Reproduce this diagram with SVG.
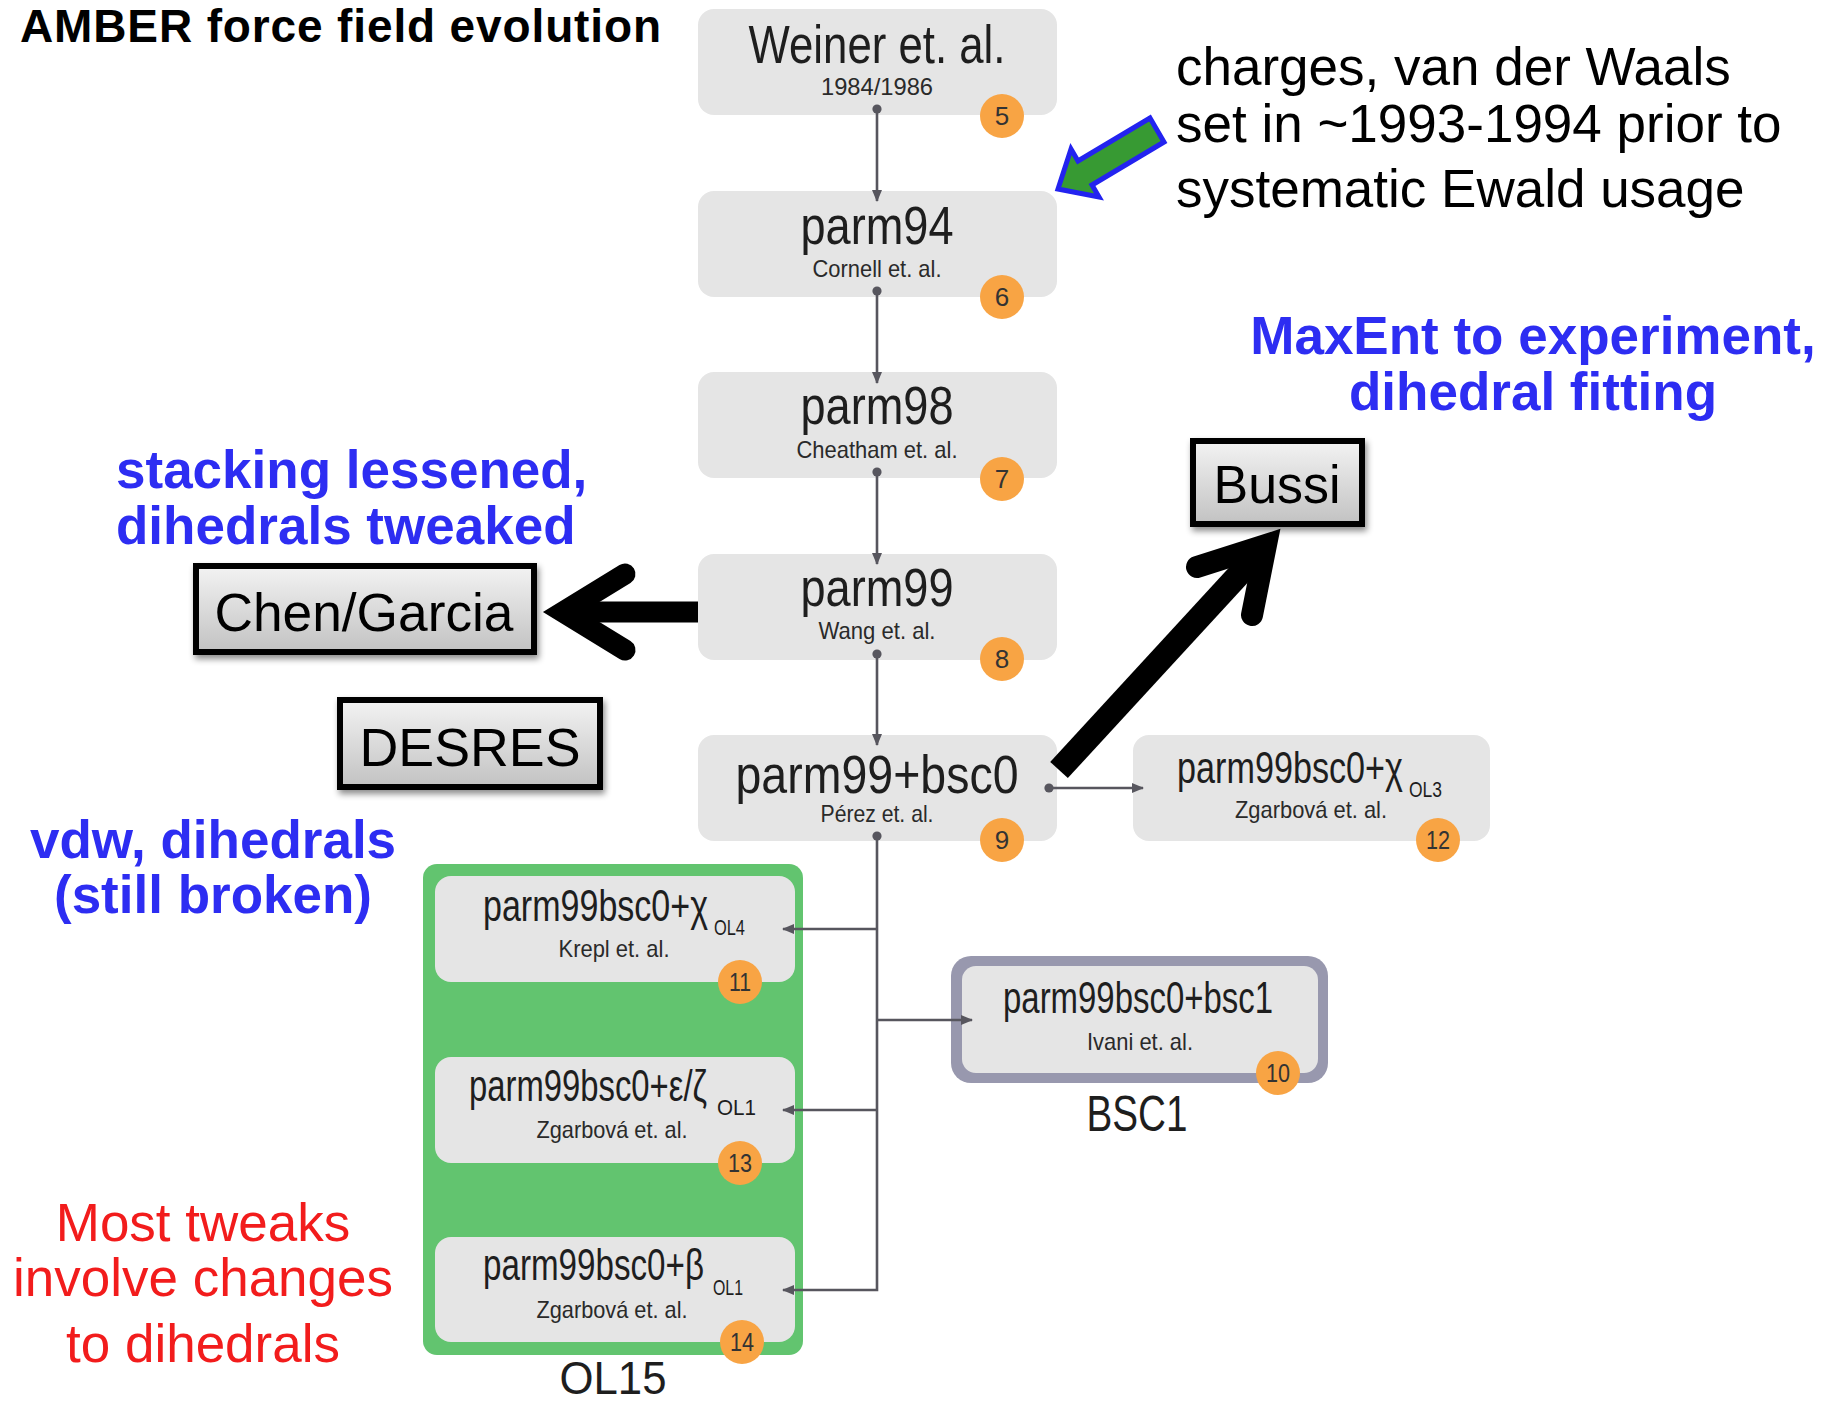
<svg xmlns="http://www.w3.org/2000/svg" width="1822" height="1405" viewBox="0 0 1822 1405">
<defs>
<style>
.box{fill:#e5e5e5}
.t{font-family:"Liberation Sans",Arial,sans-serif;fill:#1e1e1e;text-anchor:middle}
.ts{font-family:"Liberation Sans",Arial,sans-serif;fill:#1e1e1e;text-anchor:start}
.title{font-size:53px}
.sub{font-size:24px;fill:#2a2a2a}
.st{font-size:44px}
.sc{font-size:22px}
.badge circle{fill:#f8a444}
.badge text{font-family:"Liberation Sans",Arial,sans-serif;font-size:26px;fill:#333;text-anchor:middle}
.conn{stroke:#57565e;stroke-width:2.6;fill:none}
.ann{font-family:"Liberation Sans",Arial,sans-serif;font-size:53px}
.blue{fill:#2d2df2;font-weight:bold}
.red{fill:#f21c1c;text-anchor:middle}
.lbl rect{fill:url(#g);stroke:#000;stroke-width:6}
.lbl text{font-family:"Liberation Sans",Arial,sans-serif;font-size:54px;text-anchor:middle;fill:#000}
.big{stroke:#000;fill:none}
</style>
<linearGradient id="g" x1="0" y1="0" x2="0" y2="1"><stop offset="0" stop-color="#f3f3f3"/><stop offset="1" stop-color="#c2c2c2"/></linearGradient>
<filter id="sh" x="-10%" y="-10%" width="130%" height="140%"><feDropShadow dx="2" dy="4" stdDeviation="3" flood-color="#000" flood-opacity="0.45"/></filter>
<marker id="ah" viewBox="0 0 12 12" refX="11" refY="6" markerWidth="12" markerHeight="12" markerUnits="userSpaceOnUse" orient="auto"><path d="M0,1 L12,6 L0,11 z" fill="#57565e"/></marker>
<marker id="dot" viewBox="0 0 10 10" refX="5" refY="5" markerWidth="10" markerHeight="10" markerUnits="userSpaceOnUse"><circle cx="5" cy="5" r="4.6" fill="#57565e"/></marker>
</defs>
<rect width="1822" height="1405" fill="#fff"/>

<text class="ann" x="20" y="42" font-weight="bold" textLength="641" lengthAdjust="spacing" style="font-size:46px">AMBER force field evolution</text>

<g id="ol15">
<rect x="423" y="864" width="380" height="491" rx="14" fill="#62c46f"/>
<text class="t" x="613" y="1394" font-size="47" textLength="107" lengthAdjust="spacingAndGlyphs">OL15</text>
</g>
<g id="bsc1">
<rect x="951" y="956" width="377" height="127" rx="20" fill="#9898ae"/>
<text class="t" x="1137" y="1131" font-size="50" textLength="101" lengthAdjust="spacingAndGlyphs">BSC1</text>
</g>

<g id="n5">
<rect class="box" x="698" y="9" width="359" height="106" rx="16"/>
<text class="t title" x="877" y="63" textLength="257" lengthAdjust="spacingAndGlyphs">Weiner et. al.</text>
<text class="t sub" x="877" y="95" textLength="112" lengthAdjust="spacingAndGlyphs">1984/1986</text>
</g>
<g id="n6">
<rect class="box" x="698" y="191" width="359" height="106" rx="16"/>
<text class="t title" x="877" y="244" textLength="153" lengthAdjust="spacingAndGlyphs">parm94</text>
<text class="t sub" x="877" y="277" textLength="129" lengthAdjust="spacingAndGlyphs">Cornell et. al.</text>
</g>
<g id="n7">
<rect class="box" x="698" y="372" width="359" height="106" rx="16"/>
<text class="t title" x="877" y="424" textLength="153" lengthAdjust="spacingAndGlyphs">parm98</text>
<text class="t sub" x="877" y="458" textLength="161" lengthAdjust="spacingAndGlyphs">Cheatham et. al.</text>
</g>
<g id="n8">
<rect class="box" x="698" y="554" width="359" height="106" rx="16"/>
<text class="t title" x="877" y="606" textLength="153" lengthAdjust="spacingAndGlyphs">parm99</text>
<text class="t sub" x="877" y="639" textLength="117" lengthAdjust="spacingAndGlyphs">Wang et. al.</text>
</g>
<g id="n9">
<rect class="box" x="698" y="735" width="359" height="106" rx="16"/>
<text class="t title" x="877" y="793" textLength="283" lengthAdjust="spacingAndGlyphs">parm99+bsc0</text>
<text class="t sub" x="877" y="822" textLength="113" lengthAdjust="spacingAndGlyphs">Pérez et. al.</text>
</g>
<g id="n12">
<rect class="box" x="1133" y="735" width="357" height="106" rx="16"/>
<text class="ts st" x="1177" y="783"><tspan textLength="226" lengthAdjust="spacingAndGlyphs">parm99bsc0+χ</tspan><tspan class="sc" x="1409" y="797" textLength="33" lengthAdjust="spacingAndGlyphs">OL3</tspan></text>
<text class="t sub" x="1311" y="818" textLength="152" lengthAdjust="spacingAndGlyphs">Zgarbová et. al.</text>
</g>
<g id="n10">
<rect class="box" x="962" y="966" width="356" height="107" rx="14"/>
<text class="t st" x="1138" y="1013" textLength="270" lengthAdjust="spacingAndGlyphs">parm99bsc0+bsc1</text>
<text class="t sub" x="1140" y="1050" textLength="106" lengthAdjust="spacingAndGlyphs">Ivani et. al.</text>
</g>
<g id="n11">
<rect class="box" x="435" y="876" width="360" height="106" rx="16"/>
<text class="ts st" x="483" y="921"><tspan textLength="225" lengthAdjust="spacingAndGlyphs">parm99bsc0+χ</tspan><tspan class="sc" x="714" y="935" textLength="31" lengthAdjust="spacingAndGlyphs">OL4</tspan></text>
<text class="t sub" x="614" y="957" textLength="111" lengthAdjust="spacingAndGlyphs">Krepl et. al.</text>
</g>
<g id="n13">
<rect class="box" x="435" y="1057" width="360" height="106" rx="16"/>
<text class="ts st" x="469" y="1101"><tspan textLength="238" lengthAdjust="spacingAndGlyphs">parm99bsc0+ε/ζ</tspan><tspan class="sc" x="717" y="1115" textLength="39" lengthAdjust="spacingAndGlyphs">OL1</tspan></text>
<text class="t sub" x="612" y="1138" textLength="151" lengthAdjust="spacingAndGlyphs">Zgarbová et. al.</text>
</g>
<g id="n14">
<rect class="box" x="435" y="1237" width="360" height="105" rx="16"/>
<text class="ts st" x="483" y="1280"><tspan textLength="221" lengthAdjust="spacingAndGlyphs">parm99bsc0+β</tspan><tspan class="sc" x="713" y="1295" textLength="30" lengthAdjust="spacingAndGlyphs">OL1</tspan></text>
<text class="t sub" x="612" y="1318" textLength="151" lengthAdjust="spacingAndGlyphs">Zgarbová et. al.</text>
</g>

<g id="connectors">
<path class="conn" d="M877,109 V201" marker-start="url(#dot)" marker-end="url(#ah)"/>
<path class="conn" d="M877,291 V383" marker-start="url(#dot)" marker-end="url(#ah)"/>
<path class="conn" d="M877,472 V564" marker-start="url(#dot)" marker-end="url(#ah)"/>
<path class="conn" d="M877,654 V745" marker-start="url(#dot)" marker-end="url(#ah)"/>
<path class="conn" d="M1049,788 H1143" marker-start="url(#dot)" marker-end="url(#ah)"/>
<path class="conn" d="M877,836 V1290 H783" marker-start="url(#dot)" marker-end="url(#ah)"/>
<path class="conn" d="M877,929 H783" marker-end="url(#ah)"/>
<path class="conn" d="M877,1110 H783" marker-end="url(#ah)"/>
<path class="conn" d="M877,1020 H972" marker-end="url(#ah)"/>
</g>

<g id="badges">
<g class="badge"><circle cx="1002" cy="116" r="22"/><text x="1002" y="125">5</text></g>
<g class="badge"><circle cx="1002" cy="297" r="22"/><text x="1002" y="306">6</text></g>
<g class="badge"><circle cx="1002" cy="479" r="22"/><text x="1002" y="488">7</text></g>
<g class="badge"><circle cx="1002" cy="659" r="22"/><text x="1002" y="668">8</text></g>
<g class="badge"><circle cx="1002" cy="840" r="22"/><text x="1002" y="849">9</text></g>
<g class="badge"><circle cx="1278" cy="1073" r="22"/><text x="1278" y="1082" textLength="24" lengthAdjust="spacingAndGlyphs">10</text></g>
<g class="badge"><circle cx="740" cy="982" r="22"/><text x="740" y="991" textLength="22" lengthAdjust="spacingAndGlyphs">11</text></g>
<g class="badge"><circle cx="1438" cy="840" r="22"/><text x="1438" y="849" textLength="24" lengthAdjust="spacingAndGlyphs">12</text></g>
<g class="badge"><circle cx="740" cy="1163" r="22"/><text x="740" y="1172" textLength="24" lengthAdjust="spacingAndGlyphs">13</text></g>
<g class="badge"><circle cx="742" cy="1342" r="22"/><text x="742" y="1351" textLength="24" lengthAdjust="spacingAndGlyphs">14</text></g>
</g>

<g id="chen" class="lbl"><rect x="196" y="566" width="338" height="86" filter="url(#sh)"/><text x="364" y="631" textLength="299" lengthAdjust="spacingAndGlyphs">Chen/Garcia</text></g>
<g id="desres" class="lbl"><rect x="340" y="700" width="260" height="87" filter="url(#sh)"/><text x="470" y="766" textLength="221" lengthAdjust="spacingAndGlyphs">DESRES</text></g>
<g id="bussi" class="lbl"><rect x="1193" y="441" width="169" height="83" filter="url(#sh)"/><text x="1277" y="503" textLength="127" lengthAdjust="spacingAndGlyphs">Bussi</text></g>

<g id="big-arrows">
<line class="big" x1="698" y1="612" x2="565" y2="612" stroke-width="21"/>
<polyline class="big" points="625,574 563,612 625,650" stroke-width="21" stroke-linecap="round" stroke-linejoin="miter"/>
<line class="big" x1="1059" y1="770" x2="1266" y2="545" stroke-width="24"/>
<polyline class="big" points="1197,567 1266,545 1252,615" stroke-width="22" stroke-linecap="round" stroke-linejoin="miter"/>
<polygon points="1150,118 1164,142 1092,185 1099,197 1058,189 1071,149 1078,161" fill="#379a33" stroke="#2323f0" stroke-width="5" stroke-linejoin="miter"/>
</g>

<g id="annotations">
<text class="ann" x="1176" y="85">charges, van der Waals</text>
<text class="ann" x="1176" y="142">set in ~1993-1994 prior to</text>
<text class="ann" x="1176" y="207">systematic Ewald usage</text>
<text class="ann blue" x="1533" y="354" text-anchor="middle">MaxEnt to experiment,</text>
<text class="ann blue" x="1533" y="410" text-anchor="middle">dihedral fitting</text>
<text class="ann blue" x="116" y="488">stacking lessened,</text>
<text class="ann blue" x="116" y="544">dihedrals tweaked</text>
<text class="ann blue" x="213" y="858" text-anchor="middle">vdw, dihedrals</text>
<text class="ann blue" x="213" y="913" text-anchor="middle">(still broken)</text>
<text class="ann red" x="203" y="1241">Most tweaks</text>
<text class="ann red" x="203" y="1296">involve changes</text>
<text class="ann red" x="203" y="1362">to dihedrals</text>
</g>
</svg>
